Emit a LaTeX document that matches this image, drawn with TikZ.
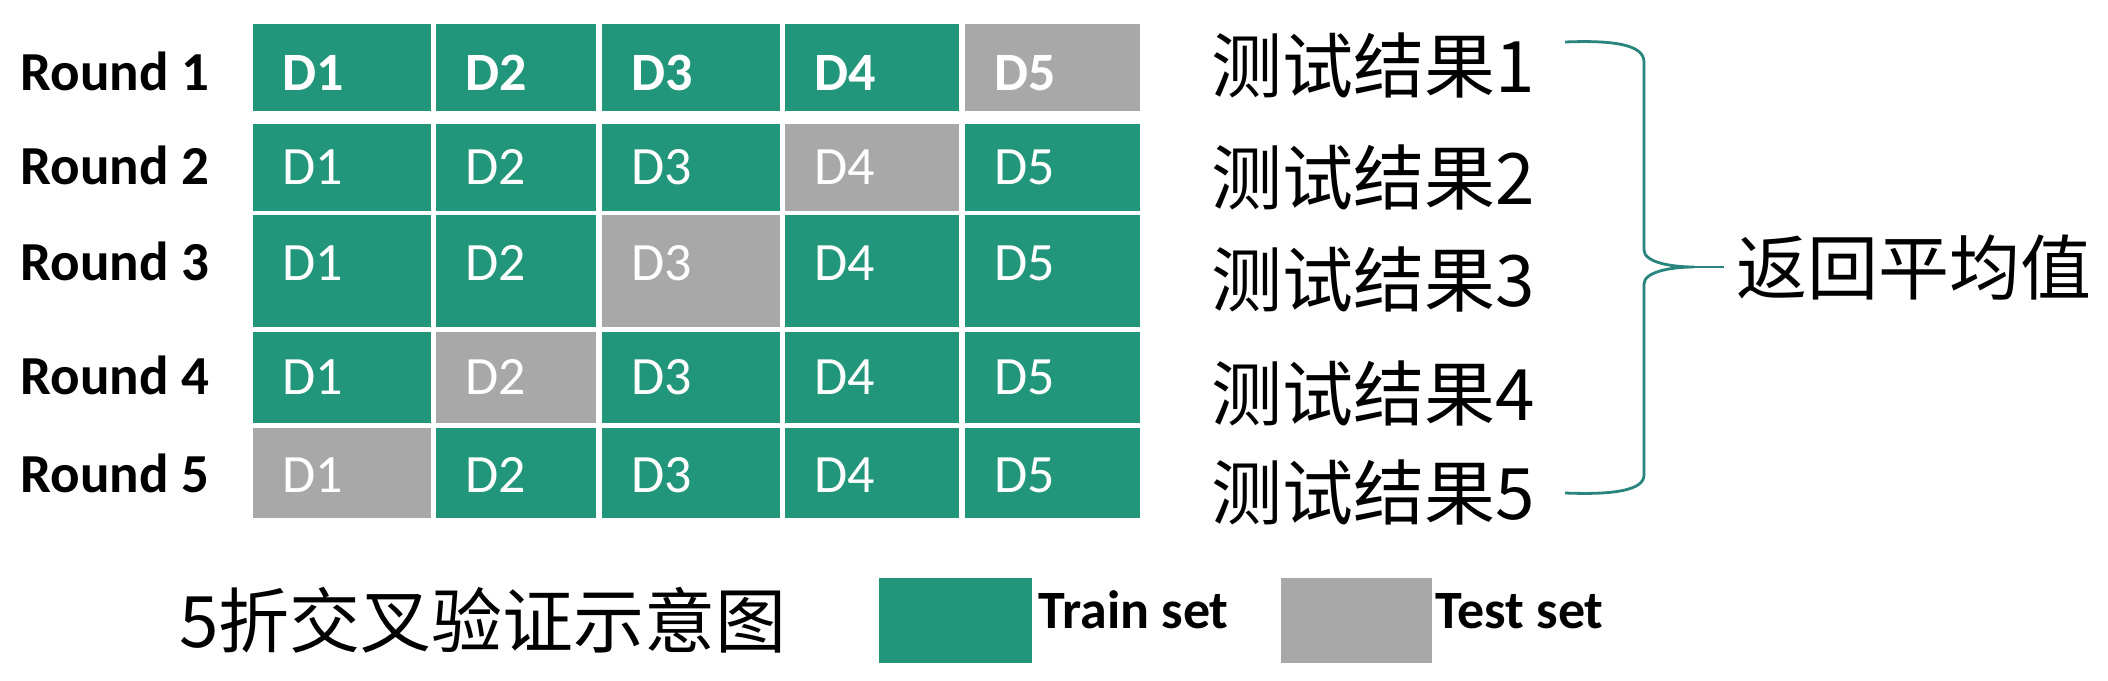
\documentclass[tikz,border=0pt]{standalone}
\usepackage{fontspec}
\setmainfont{Carlito}
\newfontfamily\cjkfont{Noto Sans CJK SC}
\definecolor{trainc}{RGB}{33,150,122}
\definecolor{testc}{RGB}{168,168,168}
\definecolor{bracec}{RGB}{40,132,125}
\tikzset{
  roundlbl/.style={anchor=base west, inner sep=0pt, font=\fontsize{27.5}{30}\selectfont\bfseries},
  celltxt/.style={anchor=base west, inner sep=0pt, text=white, font=\fontsize{27}{30}\selectfont},
  result/.style={anchor=west, inner sep=0pt, font=\fontsize{35.5}{40}\selectfont\cjkfont},
  legtxt/.style={anchor=base west, inner sep=0pt, font=\fontsize{27}{30}\selectfont\bfseries},
  bracepath/.style={draw=bracec, line width=1.4pt},
}
\begin{document}
\begin{tikzpicture}[x=0.5pt,y=-0.5pt]
\useasboundingbox (0,0) rectangle (2108,680);
\fill[white] (0,0) rectangle (2108,680);
\foreach \r in {1,...,5} {
  \pgfmathsetmacro\yt{{24,124,215,332,428}[\r-1]}
  \pgfmathsetmacro\yb{{111,211,327,423,518}[\r-1]}
  \pgfmathsetmacro\ybl{{90,184,280,394,492}[\r-1]}
  \node[roundlbl] (round\r) at (20,\ybl) {Round \r};
  \foreach \c in {1,...,5} {
    \pgfmathsetmacro\xl{{253,436,602,785,965}[\c-1]}
    \pgfmathsetmacro\xr{{431,596,780,959,1140}[\c-1]}
    \ifnum\c=\numexpr 6-\r\relax \def\fc{testc}\else\def\fc{trainc}\fi
    \fill[\fc] (\xl,\yt) rectangle (\xr,\yb);
    \ifnum\r=1
      \node[celltxt, font=\fontsize{27}{30}\selectfont\bfseries] (d\r\c) at (\xl+29,\ybl) {D\c};
    \else
      \node[celltxt] (d\r\c) at (\xl+29,\ybl) {D\c};
    \fi
  }
}
\node[result] (res1) at (1211,65) {测试结果1};
\node[result] (res2) at (1211,177) {测试结果2};
\node[result] (res3) at (1211,279) {测试结果3};
\node[result] (res4) at (1211,393) {测试结果4};
\node[result] (res5) at (1211,492) {测试结果5};
\coordinate (btop) at (1565,42);
\coordinate (bbot) at (1565,493);
\coordinate (btip) at (1694,267);
\coordinate (bend) at (1724,267);
\draw[bracepath] (btop) .. controls (1615,40) and (1644,45) .. (1644,62)
  -- (1644,250) .. controls (1644,262) and (1670,267) .. (btip)
  .. controls (1670,267) and (1644,272) .. (1644,284)
  -- (1644,475) .. controls (1644,490) and (1615,495) .. (bbot);
\draw[bracepath] (btip) -- (bend);
\node[result] (avg) at (1736,268) {返回平均值};
\node[result] (title) at (179,620) {5折交叉验证示意图};
\fill[trainc] (879,578) rectangle (1032,663);
\node[legtxt] (trainlbl) at (1038,628) {Train set};
\fill[testc] (1281,578) rectangle (1432,663);
\node[legtxt] (testlbl) at (1435,628) {Test set};
\end{tikzpicture}
\end{document}
